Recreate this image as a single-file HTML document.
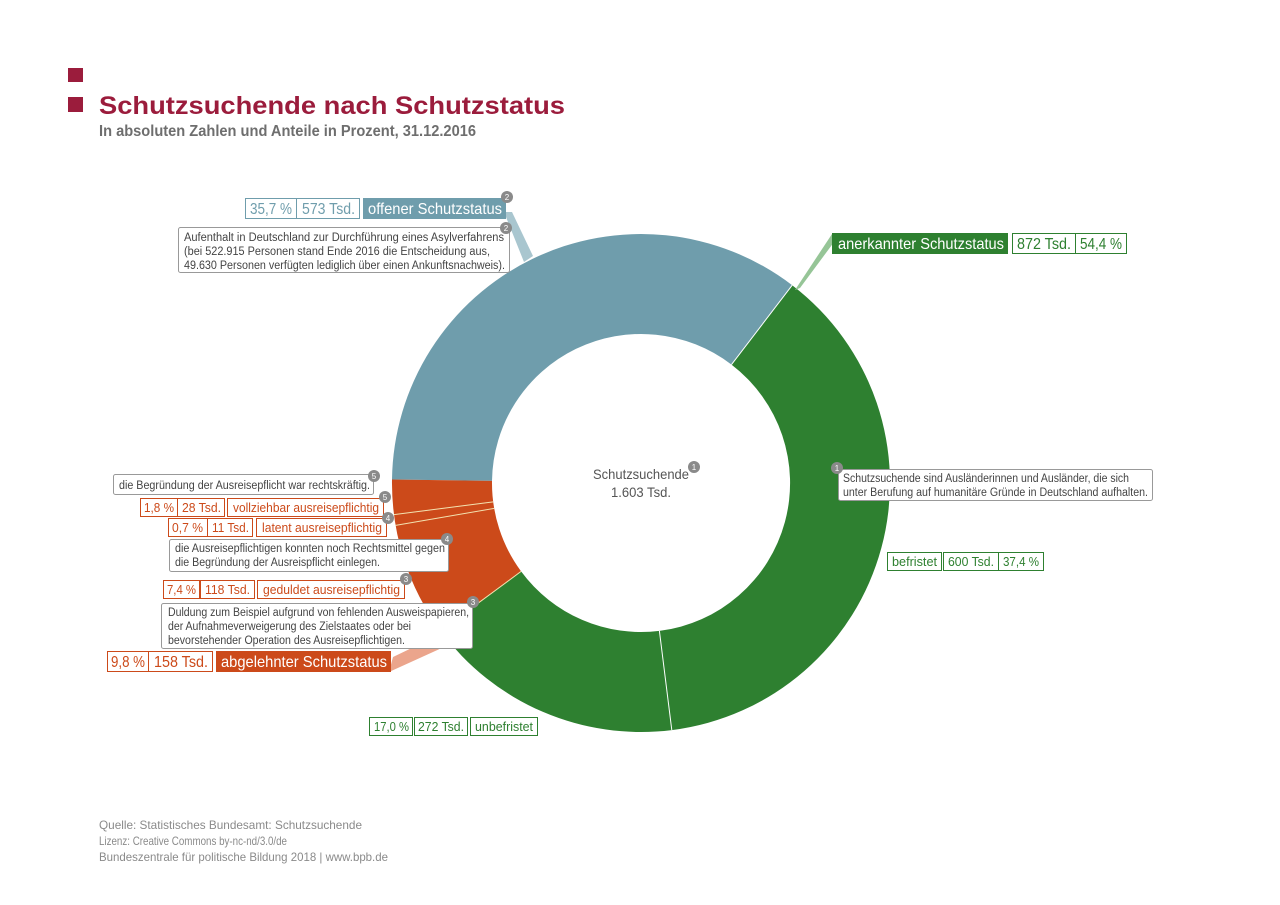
<!DOCTYPE html>
<html><head><meta charset="utf-8"><style>
html,body{margin:0;padding:0;background:#fff;}
svg{display:block;font-family:"Liberation Sans Narrow","Liberation Sans",sans-serif;}
</style></head><body>
<svg width="1280" height="905" viewBox="0 0 1280 905" xmlns="http://www.w3.org/2000/svg">
<rect x="68" y="68" width="15" height="14" fill="#9b1c3c"/>
<rect x="68" y="97" width="15" height="15" fill="#9b1c3c"/>
<text x="99" y="114" font-family="Liberation Sans,sans-serif" font-weight="bold" font-size="25" fill="#9b1c3c" textLength="466" lengthAdjust="spacingAndGlyphs">Schutzsuchende nach Schutzstatus</text>
<text x="99" y="136" font-family="Liberation Sans,sans-serif" font-weight="bold" font-size="16" fill="#6e6e6e" textLength="377" lengthAdjust="spacingAndGlyphs">In absoluten Zahlen und Anteile in Prozent, 31.12.2016</text>

<!-- donut -->
<path d="M392,479.5 A249,249 0 0 1 792.2,285.2 L731.5,364.6 A149,149 0 0 0 492,480.9 Z" fill="#6f9dac"/>
<path d="M792.2,285.2 A249,249 0 0 1 671.8,730.1 L659.4,630.9 A149,149 0 0 0 731.5,364.6 Z" fill="#2e8030"/>
<path d="M671.8,730.1 A249,249 0 0 1 440.6,630.8 L521.1,571.4 A149,149 0 0 0 659.4,630.9 Z" fill="#2e8030"/>
<path d="M440.6,630.8 A249,249 0 0 1 392,479.5 L492,480.9 A149,149 0 0 0 521.1,571.4 Z" fill="#cc4a1a"/>
<g stroke="#fff" stroke-width="1">
<line x1="792.2" y1="285.2" x2="731.5" y2="364.6"/>
<line x1="671.8" y1="730.1" x2="659.4" y2="630.9"/>
<line x1="395.6" y1="525.4" x2="494.2" y2="508.4" stroke="#f3e2b0"/>
<line x1="394" y1="514.6" x2="493.2" y2="501.9" stroke="#f3e2b0"/>
<line x1="440.6" y1="630.8" x2="521.1" y2="571.4" stroke="#f3e2b0"/>
</g>

<!-- pointers -->
<polygon points="504,212 512,212 533,256 524,262" fill="#a9c6cf"/>
<polygon points="832,234 840,234 800,288 795,290" fill="#96c597"/>
<polygon points="389,672 393,657 418,645 444,647" fill="#eba58c"/>

<g font-size="16">
<!-- offener -->
<rect x="245.5" y="198.5" width="51" height="20" fill="#fff" stroke="#6f9dac"/>
<rect x="296.5" y="198.5" width="63" height="20" fill="#fff" stroke="#6f9dac"/>
<rect x="363" y="198" width="143" height="21" fill="#6f9dac"/>
<text x="250" y="214" fill="#6f9dac" textLength="42" lengthAdjust="spacingAndGlyphs">35,7 %</text>
<text x="302" y="214" fill="#6f9dac" textLength="53" lengthAdjust="spacingAndGlyphs">573 Tsd.</text>
<text x="368" y="214" fill="#fff" textLength="134" lengthAdjust="spacingAndGlyphs">offener Schutzstatus</text>
<!-- anerkannter -->
<rect x="832" y="233" width="176" height="21" fill="#2e8030"/>
<text x="838" y="249" fill="#fff" textLength="166" lengthAdjust="spacingAndGlyphs">anerkannter Schutzstatus</text>
<rect x="1012.5" y="233.5" width="63" height="20" fill="#fff" stroke="#2e8030"/>
<rect x="1075.5" y="233.5" width="51" height="20" fill="#fff" stroke="#2e8030"/>
<text x="1017" y="249" fill="#2e8030" textLength="54" lengthAdjust="spacingAndGlyphs">872 Tsd.</text>
<text x="1080" y="249" fill="#2e8030" textLength="42" lengthAdjust="spacingAndGlyphs">54,4 %</text>
<!-- abgelehnter -->
<rect x="107.5" y="651.5" width="41" height="20" fill="#fff" stroke="#cc4a1a"/>
<rect x="148.5" y="651.5" width="64" height="20" fill="#fff" stroke="#cc4a1a"/>
<rect x="216" y="651" width="175" height="21" fill="#cc4a1a"/>
<text x="111" y="667" fill="#cc4a1a" textLength="34" lengthAdjust="spacingAndGlyphs">9,8 %</text>
<text x="154" y="667" fill="#cc4a1a" textLength="54" lengthAdjust="spacingAndGlyphs">158 Tsd.</text>
<text x="221" y="667" fill="#fff" textLength="166" lengthAdjust="spacingAndGlyphs">abgelehnter Schutzstatus</text>
</g>

<g font-size="13">
<!-- befristet -->
<rect x="887.5" y="552.5" width="54" height="18" fill="#fff" stroke="#2e8030"/>
<rect x="943.5" y="552.5" width="55" height="18" fill="#fff" stroke="#2e8030"/>
<rect x="998.5" y="552.5" width="45" height="18" fill="#fff" stroke="#2e8030"/>
<text x="892" y="566" fill="#2e8030" textLength="45" lengthAdjust="spacingAndGlyphs">befristet</text>
<text x="948" y="566" fill="#2e8030" textLength="46" lengthAdjust="spacingAndGlyphs">600 Tsd.</text>
<text x="1003" y="566" fill="#2e8030" textLength="36" lengthAdjust="spacingAndGlyphs">37,4 %</text>
<!-- unbefristet -->
<rect x="369.5" y="717.5" width="43" height="18" fill="#fff" stroke="#2e8030"/>
<rect x="414.5" y="717.5" width="53" height="18" fill="#fff" stroke="#2e8030"/>
<rect x="470.5" y="717.5" width="67" height="18" fill="#fff" stroke="#2e8030"/>
<text x="374" y="731" fill="#2e8030" textLength="35" lengthAdjust="spacingAndGlyphs">17,0 %</text>
<text x="418" y="731" fill="#2e8030" textLength="46" lengthAdjust="spacingAndGlyphs">272 Tsd.</text>
<text x="475" y="731" fill="#2e8030" textLength="58" lengthAdjust="spacingAndGlyphs">unbefristet</text>
<!-- red rows -->
<rect x="140.5" y="498.5" width="37" height="18" fill="#fff" stroke="#cc4a1a"/>
<rect x="177.5" y="498.5" width="47" height="18" fill="#fff" stroke="#cc4a1a"/>
<rect x="227.5" y="498.5" width="156" height="18" fill="#fff" stroke="#cc4a1a"/>
<text x="144" y="512" fill="#cc4a1a" textLength="30" lengthAdjust="spacingAndGlyphs">1,8 %</text>
<text x="182" y="512" fill="#cc4a1a" textLength="39" lengthAdjust="spacingAndGlyphs">28 Tsd.</text>
<text x="233" y="512" fill="#cc4a1a" textLength="146" lengthAdjust="spacingAndGlyphs">vollziehbar ausreisepflichtig</text>
<rect x="168.5" y="518.5" width="39" height="18" fill="#fff" stroke="#cc4a1a"/>
<rect x="207.5" y="518.5" width="45" height="18" fill="#fff" stroke="#cc4a1a"/>
<rect x="256.5" y="518.5" width="130" height="18" fill="#fff" stroke="#cc4a1a"/>
<text x="172" y="532" fill="#cc4a1a" textLength="31" lengthAdjust="spacingAndGlyphs">0,7 %</text>
<text x="212" y="532" fill="#cc4a1a" textLength="37" lengthAdjust="spacingAndGlyphs">11 Tsd.</text>
<text x="262" y="532" fill="#cc4a1a" textLength="120" lengthAdjust="spacingAndGlyphs">latent ausreisepflichtig</text>
<rect x="163.5" y="580.5" width="36" height="18" fill="#fff" stroke="#cc4a1a"/>
<rect x="200.5" y="580.5" width="54" height="18" fill="#fff" stroke="#cc4a1a"/>
<rect x="257.5" y="580.5" width="147" height="18" fill="#fff" stroke="#cc4a1a"/>
<text x="167" y="594" fill="#cc4a1a" textLength="29" lengthAdjust="spacingAndGlyphs">7,4 %</text>
<text x="205" y="594" fill="#cc4a1a" textLength="45" lengthAdjust="spacingAndGlyphs">118 Tsd.</text>
<text x="263" y="594" fill="#cc4a1a" textLength="137" lengthAdjust="spacingAndGlyphs">geduldet ausreisepflichtig</text>
</g>

<!-- callouts -->
<g font-size="11.5" fill="#444">
<rect x="178.5" y="227.5" width="331" height="45" fill="#fff" stroke="#999" rx="2"/>
<text x="184" y="241" textLength="320" lengthAdjust="spacingAndGlyphs">Aufenthalt in Deutschland zur Durchführung eines Asylverfahrens</text>
<text x="184" y="255" textLength="306" lengthAdjust="spacingAndGlyphs">(bei 522.915 Personen stand Ende 2016 die Entscheidung aus,</text>
<text x="184" y="269" textLength="321" lengthAdjust="spacingAndGlyphs">49.630 Personen verfügten lediglich über einen Ankunftsnachweis).</text>

<rect x="838.5" y="469.5" width="314" height="31" fill="#fff" stroke="#999" rx="2"/>
<text x="843" y="482" textLength="286" lengthAdjust="spacingAndGlyphs">Schutzsuchende sind Ausländerinnen und Ausländer, die sich</text>
<text x="843" y="496" textLength="305" lengthAdjust="spacingAndGlyphs">unter Berufung auf humanitäre Gründe in Deutschland aufhalten.</text>

<rect x="113.5" y="474.5" width="260" height="20" fill="#fff" stroke="#999" rx="2"/>
<text x="119" y="489" textLength="251" lengthAdjust="spacingAndGlyphs">die Begründung der Ausreisepflicht war rechtskräftig.</text>

<rect x="169.5" y="539.5" width="279" height="32" fill="#fff" stroke="#999" rx="2"/>
<text x="175" y="552" textLength="270" lengthAdjust="spacingAndGlyphs">die Ausreisepflichtigen konnten noch Rechtsmittel gegen</text>
<text x="175" y="566" textLength="205" lengthAdjust="spacingAndGlyphs">die Begründung der Ausreispflicht einlegen.</text>

<rect x="161.5" y="603.5" width="311" height="45" fill="#fff" stroke="#999" rx="2"/>
<text x="168" y="616" textLength="301" lengthAdjust="spacingAndGlyphs">Duldung zum Beispiel aufgrund von fehlenden Ausweispapieren,</text>
<text x="168" y="630" textLength="243" lengthAdjust="spacingAndGlyphs">der Aufnahmeverweigerung des Zielstaates oder bei</text>
<text x="168" y="644" textLength="237" lengthAdjust="spacingAndGlyphs">bevorstehender Operation des Ausreisepflichtigen.</text>
</g>

<!-- center -->
<text x="641" y="479" font-size="14" fill="#555" text-anchor="middle" textLength="96" lengthAdjust="spacingAndGlyphs">Schutzsuchende</text>
<text x="641" y="497" font-size="14" fill="#555" text-anchor="middle" textLength="60" lengthAdjust="spacingAndGlyphs">1.603 Tsd.</text>

<!-- badges -->
<g fill="#8a8a8a">
<circle cx="507" cy="197" r="6"/><circle cx="506" cy="228" r="6"/>
<circle cx="694" cy="467" r="6"/><circle cx="837" cy="468" r="6"/>
<circle cx="374" cy="476" r="6"/><circle cx="385" cy="497" r="6"/>
<circle cx="388" cy="518" r="6"/><circle cx="447" cy="539" r="6"/>
<circle cx="406" cy="579" r="6"/><circle cx="473" cy="602" r="6"/>
</g>
<g fill="#fff" font-size="8" text-anchor="middle">
<text x="507" y="200">2</text><text x="506" y="231">2</text>
<text x="694" y="470">1</text><text x="837" y="471">1</text>
<text x="374" y="479">5</text><text x="385" y="500">5</text>
<text x="388" y="521">4</text><text x="447" y="542">4</text>
<text x="406" y="582">3</text><text x="473" y="605">3</text>
</g>

<!-- footer -->
<g font-size="12" fill="#8a8a8a">
<text x="99" y="829" textLength="263" lengthAdjust="spacingAndGlyphs">Quelle: Statistisches Bundesamt: Schutzsuchende</text>
<text x="99" y="845" textLength="188" lengthAdjust="spacingAndGlyphs">Lizenz: Creative Commons by-nc-nd/3.0/de</text>
<text x="99" y="861" textLength="289" lengthAdjust="spacingAndGlyphs">Bundeszentrale für politische Bildung 2018 | www.bpb.de</text>
</g>
</svg>
</body></html>
